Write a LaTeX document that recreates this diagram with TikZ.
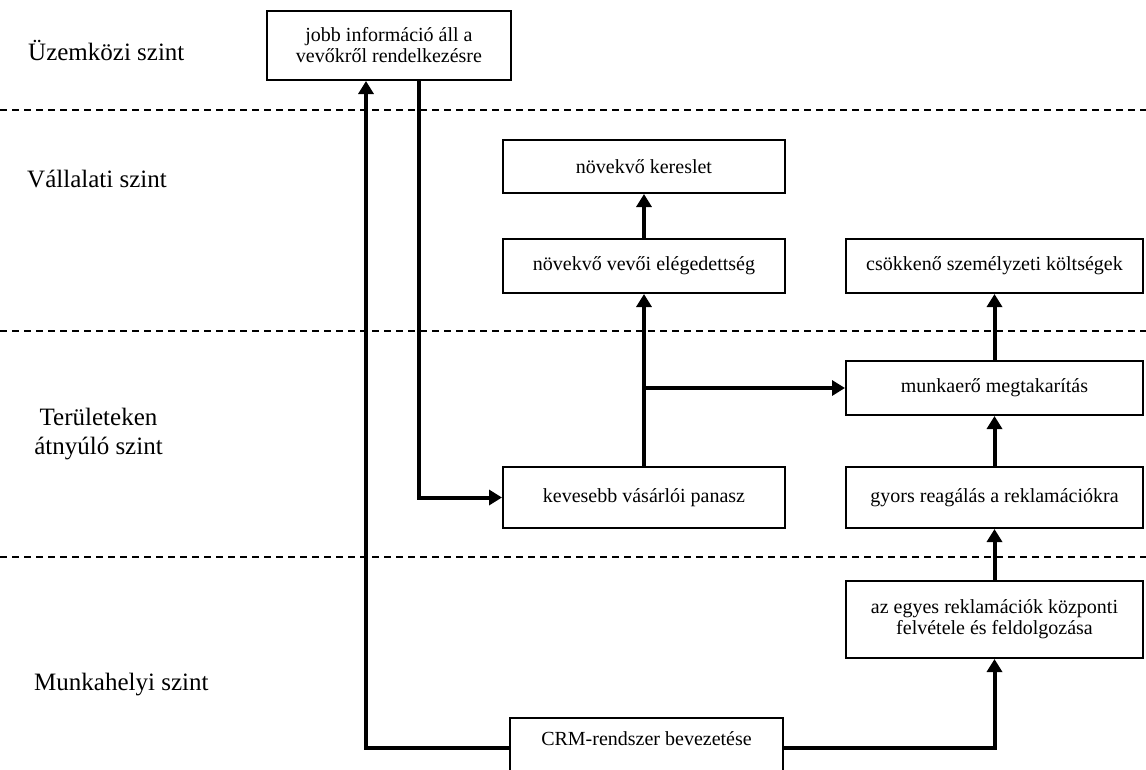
\documentclass[tikz,border=0pt]{standalone}
\usepackage{fontspec}
\setmainfont{Liberation Serif}
\usetikzlibrary{arrows.meta,calc}

\tikzset{
  box/.style={draw=black, line width=2pt, inner sep=0pt, align=center,
    font=\fontsize{20}{21}\selectfont},
  flow/.style={line width=4pt, -{Triangle[length=13pt,width=15pt]}, line join=miter},
  plain/.style={line width=4pt, line join=miter},
  levelsep/.style={line width=2pt, dash pattern=on 7pt off 5pt},
  levellabel/.style={inner sep=0pt, font=\fontsize{25}{29}\selectfont}
}

\begin{document}
\begin{tikzpicture}[x=1pt,y=-1pt]
\clip (0,0) rectangle (1146,769);
\path[use as bounding box] (0,0) rectangle (1146,769);

% level separators
\draw[levelsep] (0,110) -- (1146,110);
\draw[levelsep] (0,331) -- (1146,331);
\draw[levelsep] (0,557) -- (1146,557);

% level names
\node[levellabel, anchor=base west] (l1) at (28,60) {Üzemközi szint};
\node[levellabel, anchor=base west] (l2) at (27,187) {Vállalati szint};
\node[levellabel, align=center] (l3) at (98.5,434) {Területeken\\átnyúló szint};
\node[levellabel, anchor=base west] (l4) at (34,690) {Munkahelyi szint};

% boxes
\node[box, minimum width=244pt, minimum height=69pt] (info) at (389,45.5)
  {jobb információ áll a\\vevőkről rendelkezésre};
\node[box, minimum width=282pt, minimum height=53pt] (kereslet) at (644,166.5)
  {növekvő kereslet};
\node[box, minimum width=282pt, minimum height=54pt] (eleg) at (644,266)
  {növekvő vevői elégedettség};
\node[box, minimum width=297pt, minimum height=54pt] (koltseg) at (994.5,266)
  {csökkenő személyzeti költségek};
\node[box, minimum width=297pt, minimum height=54pt] (munka) at (994.5,388)
  {munkaerő megtakarítás};
\node[box, minimum width=282pt, minimum height=61pt] (panasz) at (644,497.5)
  {kevesebb vásárlói panasz};
\node[box, minimum width=297pt, minimum height=61pt] (gyors) at (994.5,497.5)
  {gyors reagálás a reklamációkra};
\node[box, minimum width=297pt, minimum height=77pt] (kozp) at (994.5,619.5)
  {az egyes reklamációk központi\\felvétele és feldolgozása};
\node[box, minimum width=273pt, text height=27pt, text depth=33pt,
  anchor=base] (crm) at (646.5,745)
  {CRM-rendszer bevezetése};

% connectors
\coordinate (upx) at ($(info.south west)+(100,0)$);
\coordinate (downx) at ($(info.south west)+(153,0)$);
\draw[flow] (crm.west) -| (upx);
\draw[flow] (downx) |- (panasz.west);
\draw[flow] (crm.east) -| (kozp.south);
\draw[flow] (kozp.north) -- (gyors.south);
\draw[flow] (gyors.north) -- (munka.south);
\draw[flow] (munka.north) -- (koltseg.south);
\draw[flow] (panasz.north) -- (eleg.south);
\draw[flow] (eleg.north) -- (kereslet.south);
\coordinate (branch) at (panasz.north |- munka.west);
\draw[flow] (branch) -- (munka.west);
\end{tikzpicture}
\end{document}
